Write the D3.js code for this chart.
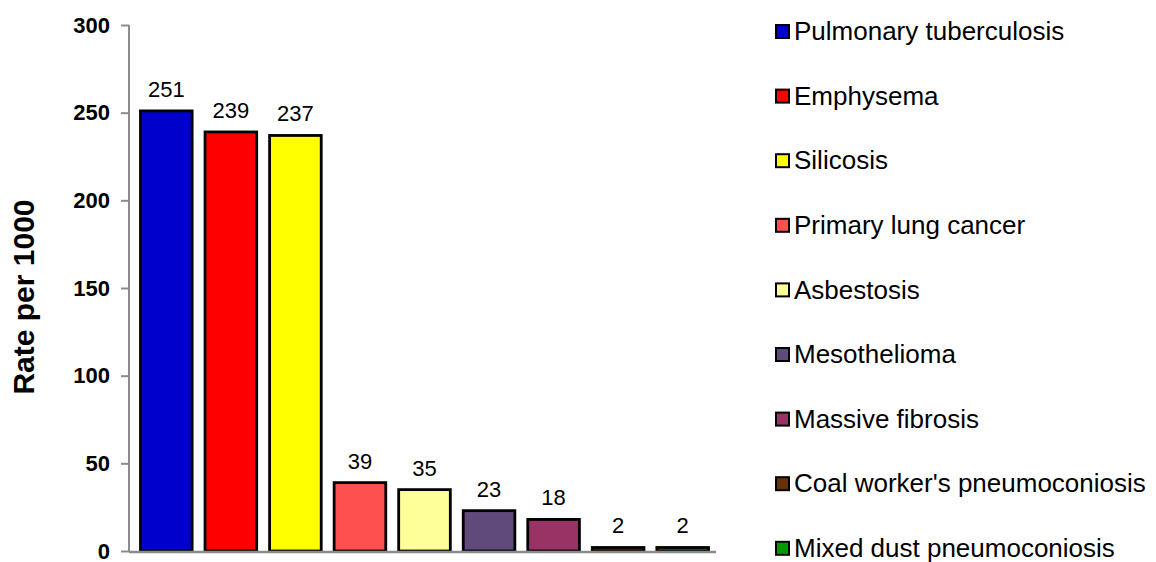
<!DOCTYPE html>
<html>
<head>
<meta charset="utf-8">
<script src="https://cdn.jsdelivr.net/npm/d3@7"></script>
<style>
  body { margin: 0; background: #fff; }
  svg text { font-family: "Liberation Sans", Arial, sans-serif; }
</style>
</head>
<body>
<div id="chart"></div>
<script>
  // data
  const categories = ['Pulmonary tuberculosis', 'Emphysema', 'Silicosis', 'Primary lung cancer',
    'Asbestosis', 'Mesothelioma', 'Massive fibrosis', "Coal worker's pneumoconiosis", 'Mixed dust pneumoconiosis'];
  const values = [251, 239, 237, 39, 35, 23, 18, 2, 2];
  const colors = ['#0000CC', '#FF0000', '#FFFF00', '#FF5050', '#FFFF99', '#604A7B', '#993366', '#663300', '#009900'];
  const yTicks = [0, 50, 100, 150, 200, 250, 300];

  const W = 1156, H = 562;
  const svg = d3.select('#chart').append('svg').attr('width', W).attr('height', H);

  const x = d3.scaleBand().domain(categories).range([129, 720]).paddingInner(0.2).paddingOuter(0.178);
  const y = d3.scaleLinear().domain([0, 300]).range([551, 25]);

  // y axis
  const yAxis = svg.append('g').attr('transform', 'translate(129,0)')
    .call(d3.axisLeft(y).tickValues(yTicks).tickSize(8).tickPadding(11));
  yAxis.selectAll('path, line').attr('stroke', '#8c8c8c').attr('stroke-width', 2);
  yAxis.select('.domain').attr('d', `M0,${y(300)}V${y(0)}`);
  yAxis.selectAll('text').attr('font-size', 22).attr('font-weight', 'bold').attr('fill', '#000')
    .attr('font-family', '"Liberation Sans", Arial, sans-serif');

  svg.append('text')
    .attr('transform', `translate(34,297) rotate(-90)`)
    .attr('text-anchor', 'middle')
    .attr('font-size', 30).attr('font-weight', 'bold')
    .text('Rate per 1000');

  // bars
  svg.selectAll('rect.bar').data(values).enter().append('rect')
    .attr('class', 'bar')
    .attr('x', (d, i) => x(categories[i]))
    .attr('y', d => y(d))
    .attr('width', x.bandwidth())
    .attr('height', d => y(0) - y(d))
    .attr('fill', (d, i) => colors[i])
    .attr('stroke', '#000').attr('stroke-width', 2.8);

  // x axis line
  svg.append('line')
    .attr('x1', 129).attr('x2', 716).attr('y1', y(0) + 1).attr('y2', y(0) + 1)
    .attr('stroke', '#8c8c8c').attr('stroke-width', 2.5);

  // value labels
  svg.selectAll('text.val').data(values).enter().append('text')
    .attr('class', 'val')
    .attr('x', (d, i) => x(categories[i]) + x.bandwidth() / 2)
    .attr('y', d => y(d) - 14)
    .attr('text-anchor', 'middle')
    .attr('font-size', 22)
    .text(d => d);

  // legend
  const leg = svg.selectAll('g.leg').data(categories).enter().append('g')
    .attr('class', 'leg')
    .attr('transform', (d, i) => `translate(776,${31 + i * 64.6})`);
  leg.append('rect')
    .attr('x', 0).attr('y', -6).attr('width', 13).attr('height', 13)
    .attr('fill', (d, i) => colors[i])
    .attr('stroke', '#000').attr('stroke-width', 2);
  leg.append('text')
    .attr('x', 18).attr('y', 0).attr('dy', '0.35em')
    .attr('font-size', 26)
    .text(d => d);
</script>
</body>
</html>
